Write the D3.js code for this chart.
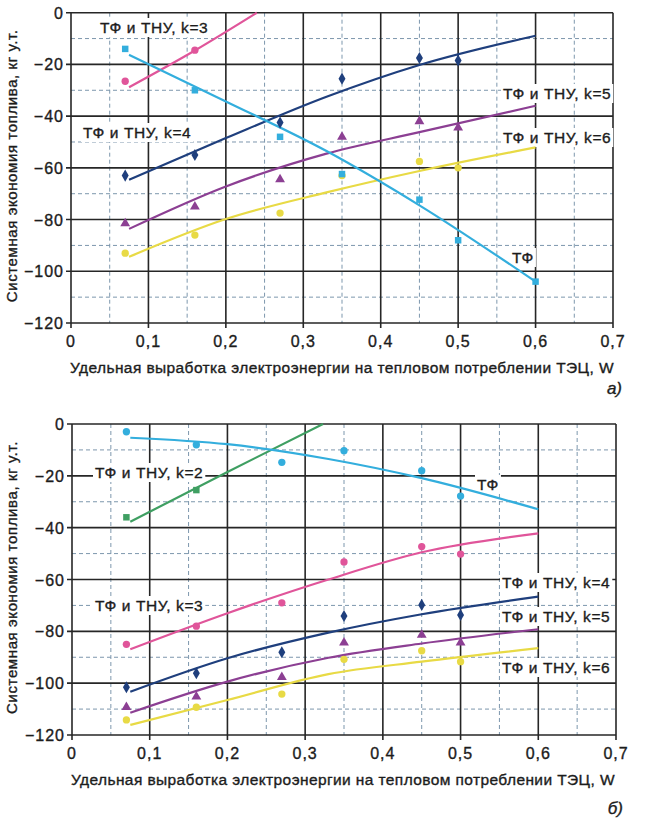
<!DOCTYPE html>
<html>
<head>
<meta charset="utf-8">
<script src="https://cdn.jsdelivr.net/npm/d3@7"></script>
<style>
  html, body { margin: 0; padding: 0; background: #fff; }
  svg { display: block; }
  text { font-family: "Liberation Sans", Arial, Helvetica, sans-serif; fill: #1c1c1c; stroke: #1c1c1c; stroke-width: 0.35px; }
</style>
</head>
<body>
<svg id="chart" width="648" height="821"></svg>
<script>
// Measured points: specific electricity output W vs. system fuel saving (kg of standard fuel)
const xMeasured = [0.07, 0.16, 0.27, 0.35, 0.45, 0.5];
const xMeasuredTF = [0.07, 0.16, 0.27, 0.35, 0.45, 0.5, 0.6];
const xShort = [0.07, 0.16];

// Trend-line nodes
const xTrend = [0.075, 0.2, 0.33, 0.45, 0.6];

// Panel а)
const tfA = [-14, -30, -48, -62.4, -72.3, -88, -104];
const k3A = [-26.5, -14.5];
const k4A = [-63, -55, -42.5, -25.5, -17.5, -18.5];
const k5A = [-81.5, -75, -64.5, -48, -42, -44.5];
const k6A = [-93, -86, -77.5, -63, -57.5, -60];

const tfATrend = [-16.3, -34.3, -53.5, -74.5, -104];
const k3ATrendX = [0.075, 0.16, 0.24];
const k3ATrend = [-28.8, -14.6, 0];
const k4ATrend = [-64.6, -48.5, -32.5, -20.2, -8.9];
const k5ATrend = [-83.6, -67.2, -54.5, -46.2, -36];
const k6ATrend = [-94.4, -79.8, -69.5, -61.2, -52.1];

// Panel б)
const tfB = [-3, -8, -14.8, -10.3, -18, -27.8];
const k2B = [-36, -25.5];
const k3B = [-85, -78, -69, -53.2, -47.3, -50.2];
const k4B = [-101.6, -96.2, -88.1, -74.1, -69.8, -73.7];
const k5B = [-109.3, -105.2, -97.7, -84.4, -81.4, -84.4];
const k6B = [-114.2, -109.3, -104.2, -90.8, -87.5, -91.7];

const tfBTrend = [-5.3, -7.8, -13.5, -20.9, -32.9];
const k2BTrendX = [0.075, 0.2, 0.323];
const k2BTrend = [-37.7, -18.5, 0];
const k3BTrend = [-86.9, -73, -60, -49.5, -42.2];
const k4BTrend = [-103.3, -90.4, -80.5, -73.4, -66.6];
const k5BTrend = [-111.4, -99.4, -90.2, -84.7, -79.2];
const k6BTrend = [-116.1, -106.5, -96.5, -91.7, -86.5];

// Axis ticks
const xMajor = [0, 0.1, 0.2, 0.3, 0.4, 0.5, 0.6, 0.7];
const xMinor = [0.05, 0.15, 0.25, 0.35, 0.45, 0.55, 0.65];
const yMajor = [0, -20, -40, -60, -80, -100, -120];
const yMinor = [-10, -30, -50, -70, -90, -110];

const xTitle = "Удельная выработка электроэнергии на тепловом потреблении ТЭЦ, W";
const yTitle = "Системная экономия топлива, кг у.т.";

const colors = {
  tf: "#33aedd",
  k2: "#3f9f62",
  k3: "#e0559a",
  k4: "#1f3f7d",
  k5: "#8c3f93",
  k6: "#e8da45"
};

const svg = d3.select("#chart");
const fmtX = d => d === 0 ? "0" : d3.format(".1f")(d).replace(".", ",");
const fmtY = d => d === 0 ? "0" : "\u2212" + Math.abs(d);

function panel(cfg) {
  const x = d3.scaleLinear().domain([0, 0.7]).range(cfg.xr);
  const y = d3.scaleLinear().domain([-120, 0]).range(cfg.yr);
  const g = svg.append("g");

  // minor dashed grid
  g.append("g").selectAll("line").data(xMinor).join("line")
    .attr("x1", d => x(d)).attr("x2", d => x(d))
    .attr("y1", y(0)).attr("y2", y(-120))
    .attr("stroke", "#7d97ad").attr("stroke-width", 1).attr("stroke-dasharray", "4,3");
  g.append("g").selectAll("line").data(yMinor).join("line")
    .attr("x1", x(0)).attr("x2", x(0.7))
    .attr("y1", d => y(d)).attr("y2", d => y(d))
    .attr("stroke", "#7d97ad").attr("stroke-width", 1).attr("stroke-dasharray", "4,3");

  // major solid grid with outward ticks
  g.append("g").selectAll("line").data(xMajor).join("line")
    .attr("x1", d => x(d)).attr("x2", d => x(d))
    .attr("y1", y(0)).attr("y2", y(-120) + 5)
    .attr("stroke", "#262626").attr("stroke-width", 1.6);
  g.append("g").selectAll("line").data(yMajor).join("line")
    .attr("x1", x(0) - 5).attr("x2", x(0.7))
    .attr("y1", d => y(d)).attr("y2", d => y(d))
    .attr("stroke", "#262626").attr("stroke-width", 1.6);

  // tick labels
  g.append("g").selectAll("text").data(xMajor).join("text")
    .attr("x", d => x(d)).attr("y", y(-120) + 24)
    .attr("text-anchor", "middle").attr("font-size", 16).attr("letter-spacing", 1)
    .text(fmtX);
  g.append("g").selectAll("text").data(yMajor).join("text")
    .attr("x", x(0) - 7).attr("y", d => y(d) + 6)
    .attr("text-anchor", "end").attr("font-size", 16).attr("letter-spacing", 1)
    .text(fmtY);

  // axis titles
  g.append("text")
    .attr("x", x(0) - 1).attr("y", y(-120) + 50)
    .attr("font-size", 15.5).attr("letter-spacing", 0.4).text(xTitle);
  g.append("text")
    .attr("transform", `translate(${cfg.yTitleX},${(y(0) + y(-120)) / 2 - 2}) rotate(-90)`)
    .attr("text-anchor", "middle").attr("font-size", 15).attr("letter-spacing", 0.6).text(yTitle);
  g.append("text")
    .attr("x", cfg.tagX).attr("y", cfg.tagY)
    .attr("text-anchor", "end").attr("font-size", 17).attr("font-style", "italic")
    .text(cfg.tag);

  // curve labels on white backing
  const lab = g.append("g");
  cfg.labels.forEach(l => {
    const t = lab.append("text")
      .attr("x", l.x).attr("y", l.y + 5)
      .attr("font-size", 15.5).attr("letter-spacing", 0.6).text(l.text);
    const b = t.node().getBBox();
    lab.insert("rect", "text")
      .attr("x", b.x - 2).attr("y", b.y - 1)
      .attr("width", b.width + 4).attr("height", b.height + 2)
      .attr("fill", "#fff");
  });

  const line = d3.line().x(d => x(d[0])).y(d => y(d[1])).curve(d3.curveMonotoneX);

  cfg.series.forEach(s => {
    g.append("path")
      .datum(d3.zip(s.tx, s.tv))
      .attr("d", line)
      .attr("fill", "none").attr("stroke", s.color).attr("stroke-width", 2.2);
  });

  const sym = {
    square: d3.symbolSquare,
    circle: d3.symbolCircle,
    diamond: d3.symbolDiamond,
    triangle: d3.symbolTriangle
  };
  cfg.series.forEach(s => {
    g.append("g").selectAll("path").data(d3.zip(s.px, s.pv)).join("path")
      .attr("transform", d => `translate(${x(d[0])},${y(d[1])})`)
      .attr("d", d3.symbol().type(sym[s.shape]).size(s.size || 42))
      .attr("fill", s.color);
  });
}

panel({
  xr: [71, 613], yr: [323, 12.7], yTitleX: 17,
  tag: "а)", tagX: 622, tagY: 394,
  labels: [
    { x: 100, y: 28, text: "ТФ и ТНУ, k=3" },
    { x: 83, y: 133, text: "ТФ и ТНУ, k=4" },
    { x: 503, y: 94, text: "ТФ и ТНУ, k=5" },
    { x: 503, y: 138, text: "ТФ и ТНУ, k=6" },
    { x: 512, y: 258, text: "ТФ" }
  ],
  series: [
    { color: colors.k6, shape: "circle", px: xMeasured, pv: k6A, tx: xTrend, tv: k6ATrend },
    { color: colors.k5, shape: "triangle", px: xMeasured, pv: k5A, tx: xTrend, tv: k5ATrend },
    { color: colors.k4, shape: "diamond", px: xMeasured, pv: k4A, tx: xTrend, tv: k4ATrend },
    { color: colors.k3, shape: "circle", px: xShort, pv: k3A, tx: k3ATrendX, tv: k3ATrend },
    { color: colors.tf, shape: "square", px: xMeasuredTF, pv: tfA, tx: xTrend, tv: tfATrend }
  ]
});

panel({
  xr: [72, 616], yr: [735, 424], yTitleX: 17,
  tag: "б)", tagX: 623, tagY: 814,
  labels: [
    { x: 95, y: 473, text: "ТФ и ТНУ, k=2" },
    { x: 477, y: 485, text: "ТФ" },
    { x: 95, y: 606, text: "ТФ и ТНУ, k=3" },
    { x: 502, y: 583, text: "ТФ и ТНУ, k=4" },
    { x: 502, y: 617, text: "ТФ и ТНУ, k=5" },
    { x: 502, y: 668, text: "ТФ и ТНУ, k=6" }
  ],
  series: [
    { color: colors.k6, shape: "circle", px: xMeasured, pv: k6B, tx: xTrend, tv: k6BTrend },
    { color: colors.k5, shape: "triangle", px: xMeasured, pv: k5B, tx: xTrend, tv: k5BTrend },
    { color: colors.k4, shape: "diamond", px: xMeasured, pv: k4B, tx: xTrend, tv: k4BTrend },
    { color: colors.k3, shape: "circle", px: xMeasured, pv: k3B, tx: xTrend, tv: k3BTrend },
    { color: colors.k2, shape: "square", px: xShort, pv: k2B, tx: k2BTrendX, tv: k2BTrend },
    { color: colors.tf, shape: "circle", px: xMeasured, pv: tfB, tx: xTrend, tv: tfBTrend }
  ]
});
</script>
</body>
</html>
